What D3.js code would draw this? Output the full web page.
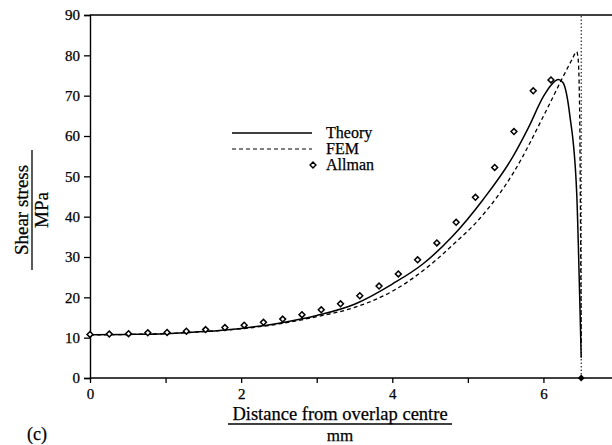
<!DOCTYPE html>
<html><head><meta charset="utf-8">
<script src="https://cdn.jsdelivr.net/npm/d3@7/dist/d3.min.js"></script>
<style>body{margin:0;background:#fff}svg{display:block}text{font-family:"Liberation Serif","DejaVu Serif",serif;fill:#000;stroke:#000;stroke-width:0.25px}</style>
</head><body>
<svg id="c" width="612" height="445"></svg>
<script>
// ---- data ----
const xTickLabels = [0, 2, 4, 6];
const xMinorTicks = [1, 3, 5];
const yTicks = [0, 10, 20, 30, 40, 50, 60, 70, 80, 90];

const theoryX = [0, 0.5, 1, 1.5, 2, 2.5, 3, 3.5, 4, 4.4, 4.8, 5.2, 5.6, 5.8, 6.0, 6.1, 6.2, 6.26, 6.35, 6.44, 6.48, 6.5];
const theoryY = [10.7, 10.8, 11.0, 11.5, 12.3, 13.6, 15.5, 18.3, 23.3, 28.2, 35.2, 44.2, 55.0, 62.0, 69.8, 72.6, 74.0, 73.2, 65.0, 46.0, 20.0, 5.0];

const femX = [0, 0.5, 1, 1.5, 2, 2.5, 3, 3.5, 4, 4.5, 4.8, 5.16, 5.6, 6.04, 6.26, 6.38, 6.44, 6.46, 6.48, 6.49, 6.5];
const femY = [10.7, 10.8, 11.0, 11.5, 12.2, 13.4, 15.2, 17.5, 21.5, 28.0, 33.0, 39.6, 50.8, 66.4, 74.7, 79.0, 80.9, 79.0, 65.0, 40.0, 8.0];

const allmanX = [0, 0.255, 0.51, 0.765, 1.02, 1.275, 1.53, 1.785, 2.04, 2.295, 2.55, 2.805, 3.06, 3.315, 3.57, 3.825, 4.08, 4.335, 4.59, 4.845, 5.1, 5.355, 5.61, 5.865, 6.1];
const allmanY = [10.8, 10.9, 11.0, 11.2, 11.3, 11.6, 12.0, 12.5, 13.1, 13.8, 14.6, 15.7, 16.9, 18.4, 20.4, 22.8, 25.8, 29.3, 33.5, 38.6, 44.8, 52.2, 61.1, 71.2, 73.9];

const edgeX = [6.5];
const edgeY = [0, 90];

const legendNames = ["Theory", "FEM", "Allman"];

// ---- chart ----
const svg = d3.select("#c");
const x = d3.scaleLinear().domain([0, 7]).range([90, 619]);
const y = d3.scaleLinear().domain([0, 90]).range([378, 15]);

// frame top
svg.append("line").attr("x1", x(0)).attr("x2", 612).attr("y1", y(90)).attr("y2", y(90))
  .attr("stroke", "#000").attr("stroke-width", 1.4);

// x axis
const gx = svg.append("g").attr("transform", `translate(0,${y(0)})`)
  .call(d3.axisBottom(x).tickValues(xTickLabels).tickSize(5).tickPadding(5).tickFormat(d3.format("d")));
svg.append("g").attr("transform", `translate(0,${y(0)})`)
  .call(d3.axisBottom(x).tickValues(xMinorTicks).tickSize(5).tickFormat(""))
  .select(".domain").remove();
// y axis
const gy = svg.append("g").attr("transform", `translate(${x(0)},0)`)
  .call(d3.axisLeft(y).tickValues(yTicks).tickSize(6).tickPadding(4).tickFormat(d3.format("d")));
svg.selectAll(".domain").attr("stroke-width", 1.4);
svg.selectAll(".tick line").attr("stroke-width", 1.3);
svg.selectAll(".tick text").style("font-family", '"Liberation Serif",serif').style("font-size", "15px");
gx.select(".domain").attr("d", `M${x(0)},0H612`);

const line = d3.line().x(d => x(d[0])).y(d => y(d[1])).curve(d3.curveMonotoneX);

// dotted vertical at overlap end
svg.append("line").attr("x1", x(edgeX[0])).attr("x2", x(edgeX[0]))
  .attr("y1", y(edgeY[0])).attr("y2", y(edgeY[1]))
  .attr("stroke", "#000").attr("stroke-width", 1).attr("stroke-dasharray", "1.5,2");

// FEM
svg.append("path").datum(femX.map((d, i) => [d, femY[i]])).attr("d", line)
  .attr("fill", "none").attr("stroke", "#000").attr("stroke-width", 1.3).attr("stroke-dasharray", "4,3");
// Theory
svg.append("path").datum(theoryX.map((d, i) => [d, theoryY[i]])).attr("d", line)
  .attr("fill", "none").attr("stroke", "#000").attr("stroke-width", 1.5);

// Allman
const diamond = d3.symbol().type(d3.symbolDiamond2).size(22);
svg.append("g").selectAll("path").data(allmanX.map((d, i) => [d, allmanY[i]])).join("path")
  .attr("d", diamond).attr("transform", d => `translate(${x(d[0])},${y(d[1])})`)
  .attr("fill", "#fff").attr("stroke", "#000").attr("stroke-width", 1.5);

// end marker
svg.append("path").attr("d", d3.symbol().type(d3.symbolDiamond2).size(30))
  .attr("transform", `translate(${x(edgeX[0])},${y(edgeY[0])})`).attr("fill", "#000");

// legend
const lg = svg.append("g");
lg.append("line").attr("x1", 232).attr("x2", 312).attr("y1", 133).attr("y2", 133).attr("stroke", "#000").attr("stroke-width", 1.4);
lg.append("line").attr("x1", 232).attr("x2", 312).attr("y1", 149).attr("y2", 149).attr("stroke", "#000").attr("stroke-width", 1.2).attr("stroke-dasharray", "4,3");
lg.append("path").attr("d", diamond).attr("transform", "translate(313,165)").attr("fill", "#fff").attr("stroke", "#000").attr("stroke-width", 1.4);
legendNames.forEach((n, i) => {
  lg.append("text").attr("x", 326).attr("y", 138 + i * 16).style("font-size", "16px").text(n);
});

// y label
const yl = svg.append("g").attr("transform", "translate(0,210) rotate(-90)");
yl.append("text").attr("x", 0).attr("y", 28).attr("text-anchor", "middle").style("font-size", "19px").text("Shear stress");
yl.append("line").attr("x1", -60).attr("x2", 60).attr("y1", 32).attr("y2", 32).attr("stroke", "#000").attr("stroke-width", 1.3);
yl.append("text").attr("x", 0).attr("y", 48).attr("text-anchor", "middle").style("font-size", "19px").text("MPa");

// x label
svg.append("text").attr("x", 340).attr("y", 420).attr("text-anchor", "middle").style("font-size", "18.5px").text("Distance from overlap centre");
svg.append("line").attr("x1", 228).attr("x2", 452).attr("y1", 424).attr("y2", 424).attr("stroke", "#000").attr("stroke-width", 1.3);
svg.append("text").attr("x", 340).attr("y", 441).attr("text-anchor", "middle").style("font-size", "17px").text("mm");
svg.append("text").attr("x", 27).attr("y", 440).style("font-size", "18px").text("(c)");
</script>
</body></html>
